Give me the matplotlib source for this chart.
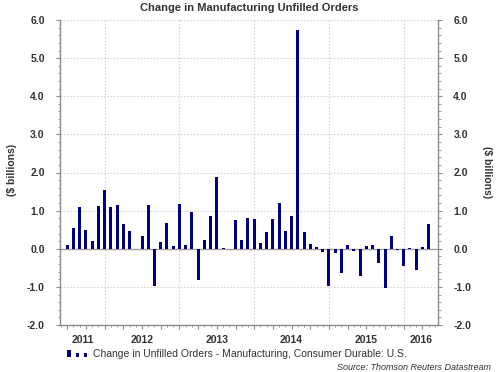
#!/usr/bin/env python3
"""Change in Manufacturing Unfilled Orders - monthly bar chart."""
import numpy as np
import pandas as pd
import matplotlib
matplotlib.use("Agg")
import matplotlib.pyplot as plt
from matplotlib.patches import Rectangle
from matplotlib.legend_handler import HandlerBase
from matplotlib.ticker import MultipleLocator, FixedLocator

# ---- Data ($ billions, monthly change) ----
start_month = "2011-07-01"
changes = [
    0.09, 0.55, 1.10, 0.49, 0.20, 1.13,                    # 2011 Jul-Dec
    1.55, 1.10, 1.15, 0.64, 0.46, 0.00, 0.34, 1.16, -0.97, 0.18, 0.68, 0.06,   # 2012
    1.18, 0.09, 0.96, -0.82, 0.22, 0.87, 1.87, 0.01, 0.00, 0.76, 0.24, 0.81,   # 2013
    0.78, 0.15, 0.44, 0.79, 1.21, 0.47, 0.86, 5.75, 0.45, 0.13, 0.05, -0.08,   # 2014
    -0.98, -0.12, -0.63, 0.09, -0.07, -0.72, 0.06, 0.11, -0.37, -1.02, 0.33, -0.03,  # 2015
    -0.45, 0.02, -0.57, 0.04, 0.66,                        # 2016 Jan-May
]
years = [2011, 2012, 2013, 2014, 2015, 2016]
yticks = [-2.0, -1.0, 0.0, 1.0, 2.0, 3.0, 4.0, 5.0, 6.0]

title = "Change in Manufacturing Unfilled Orders"
series_label = "Change in Unfilled Orders - Manufacturing, Consumer Durable: U.S."
source = "Source: Thomson Reuters Datastream"

dates = pd.date_range(start_month, periods=len(changes), freq="MS")
xpos = dates.year + (dates.month - 1) / 12.0

plt.rcParams["font.family"] = ["Liberation Sans", "DejaVu Sans"]
text_col = "#333333"
axis_col = "#8c8c8c"
grid_col = "#d4d4d4"
bar_col = "#000080"


class ThreeBarHandler(HandlerBase):
    def create_artists(self, legend, orig_handle, xdescent, ydescent,
                       width, height, fontsize, trans):
        w = width * 0.17
        specs = [(0.0, 1.0), (0.42, 0.55), (0.83, 0.55)]
        arts = []
        for fx, fh in specs:
            r = Rectangle((xdescent + fx * width, -ydescent),
                          w, height * fh, facecolor=bar_col, edgecolor="none",
                          transform=trans)
            arts.append(r)
        return arts


fig = plt.figure(figsize=(4.98, 3.72), dpi=100)
ax = fig.add_axes([60 / 498, 47 / 372, 378 / 498, 305 / 372])

bars = ax.bar(xpos, changes, width=0.04, color=bar_col, zorder=3)
ax.axhline(0, color="#a0a0a0", linewidth=1.0, zorder=2)

# ---- Axes ----
xmin, xmax = 2011.403, 2016.458
ax.set_xlim(xmin, xmax)
ax.set_ylim(-2.0, 6.0)

ax.spines["top"].set_visible(False)
for s in ["left", "right", "bottom"]:
    ax.spines[s].set_color(axis_col)
    ax.spines[s].set_linewidth(1.0)

ax.yaxis.set_major_locator(FixedLocator(yticks))
ax.yaxis.set_minor_locator(MultipleLocator(0.2))
ax.set_yticklabels([f"{v:.1f}" for v in yticks])
ax.tick_params(axis="y", which="both", left=True, right=True,
               labelleft=True, labelright=True, direction="out",
               color=axis_col, labelcolor=text_col, labelsize=7.5, pad=8)
ax.tick_params(axis="y", which="major", length=3)
ax.tick_params(axis="y", which="minor", length=1.8)
for lab in ax.get_yticklabels():
    lab.set_fontweight("bold")

# x: quarterly ticks, monthly minor ticks, yearly gridlines
q_ticks = np.arange(2011.5, 2016.5, 0.25)
m_ticks = np.arange(2011 + 5 / 12, 2016.5, 1 / 12)
ax.xaxis.set_major_locator(FixedLocator(q_ticks))
ax.xaxis.set_minor_locator(FixedLocator(m_ticks))
ax.tick_params(axis="x", which="major", length=3, color=axis_col,
               labelbottom=False, direction="out")
ax.tick_params(axis="x", which="minor", length=1.5, color=axis_col,
               direction="out")

for yr in years[1:]:
    ax.axvline(yr, color=grid_col, linestyle=(0, (1.5, 1.5)), linewidth=0.8, zorder=1)
for v in yticks:
    if v != 0.0:
        ax.axhline(v, color=grid_col, linestyle=(0, (1.5, 1.5)), linewidth=0.8, zorder=1)

# Year labels centred on visible part of each year
for yr in years:
    lo, hi = max(yr, xmin), min(yr + 1, xmax)
    ax.text((lo + hi) / 2, -0.033, str(yr), transform=ax.get_xaxis_transform(),
            ha="center", va="top", fontsize=7.5, fontweight="bold", color=text_col)

# Axis labels on both sides
fig.text(12 / 498, 1 - 170 / 372, "($ billions)", rotation=90, ha="center",
         va="center", fontsize=7.5, fontweight="bold", color=text_col)
fig.text(487 / 498, 1 - 172 / 372, "($ billions)", rotation=270, ha="center",
         va="center", fontsize=7.5, fontweight="bold", color=text_col)

fig.text(249 / 498, 1 - 8 / 372, title, ha="center", va="center",
         fontsize=8, fontweight="bold", color=text_col)

fig.legend([bars], [series_label], handler_map={type(bars): ThreeBarHandler()},
           loc="center left", bbox_to_anchor=(58 / 498, 1 - 354 / 372),
           frameon=False, fontsize=7.5, handlelength=1.9, handletextpad=0.6,
           labelcolor=text_col)

fig.text(491 / 498, 1 - 367 / 372, source, ha="right", va="center",
         fontsize=6.5, style="italic", color=text_col)

fig.savefig("out.png", dpi=100)
